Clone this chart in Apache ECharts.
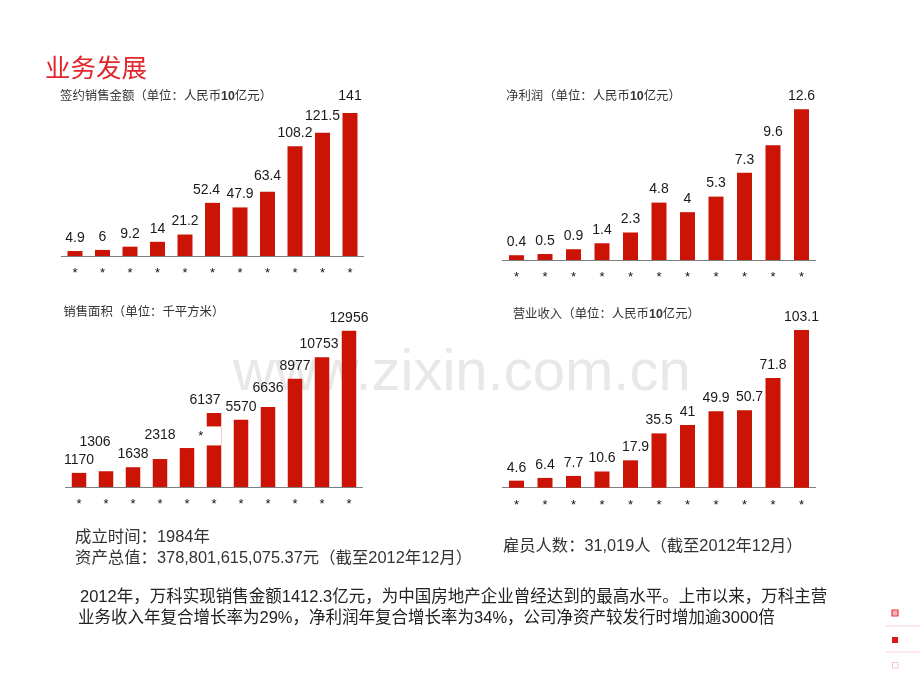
<!DOCTYPE html>
<html><head><meta charset="utf-8">
<script src="https://cdn.jsdelivr.net/npm/echarts@6/dist/echarts.min.js"></script>
<style>html,body{margin:0;padding:0;background:#fff}#c{width:920px;height:690px}</style>
</head><body><div id="c"></div>
<script>
// ---- data ----
const starLabels = ['*','*','*','*','*','*','*','*','*','*','*'];
const contractSales = [4.9, 6, 9.2, 14, 21.2, 52.4, 47.9, 63.4, 108.2, 121.5, 141];
const netProfit = [0.4, 0.5, 0.9, 1.4, 2.3, 4.8, 4, 5.3, 7.3, 9.6, 12.6];
const salesArea = [1170, 1306, 1638, 2318, 3230, 6137, 5570, 6636, 8977, 10753, 12956];
const salesAreaLabels = ['1170','1306','1638','2318','*','6137','5570','6636','8977','10753','12956'];
const revenue = [4.6, 6.4, 7.7, 10.6, 17.9, 35.5, 41, 49.9, 50.7, 71.8, 103.1];

const titleText = '业务发展';
const sub1 = '签约销售金额（单位：人民币{b|10}亿元）';
const sub2 = '净利润（单位：人民币{b|10}亿元）';
const sub3 = '销售面积（单位：千平方米）';
const sub4 = '营业收入（单位：人民币{b|10}亿元）';
const info1 = '成立时间：1984年';
const info2 = '资产总值：378,801,615,075.37元（截至2012年12月）';
const info3 = '雇员人数：31,019人（截至2012年12月）';
const para1 = '2012年，万科实现销售金额1412.3亿元，为中国房地产企业曾经达到的最高水平。上市以来，万科主营';
const para2 = '业务收入年复合增长率为29%，净利润年复合增长率为34%，公司净资产较发行时增加逾3000倍';

// ---- styles ----
const BAR = '#cc1406';
const NUM = '"Liberation Sans", Arial, "Noto Sans CJK SC", sans-serif';
const CJK = '"Liberation Sans", Arial, "Noto Sans CJK SC", sans-serif';

const grids = [
  {left: 61.25, top: 113, width: 302.5, height: 143, outerBoundsMode: 'none'},
  {left: 502.25, top: 109.3, width: 313.5, height: 150.7, outerBoundsMode: 'none'},
  {left: 65.5, top: 330.7, width: 297, height: 156.3, outerBoundsMode: 'none'},
  {left: 502.25, top: 330, width: 313.5, height: 157.7, outerBoundsMode: 'none'}
];
const maxes = [141, 12.6, 12956, 103.1];
const barWidths = [15, 15, 14.5, 15];
const offsets = [
  {5: [-6, 0], 7: [0, -3], 9: [0, -4], 10: [0, -4]},
  {},
  {1: [-11, -16], 3: [0, -11], 5: [-9, 0], 7: [0, -6], 9: [-3, 0]},
  {4: [5, 0], 8: [5, 0]}
];
const seriesData = [contractSales, netProfit, salesArea, revenue];

const xAxes = grids.map((g, i) => ({
  type: 'category', gridIndex: i, data: starLabels,
  axisLine: {lineStyle: {color: '#7f7f7f', width: 1}},
  axisTick: {show: false},
  axisLabel: {color: '#111', fontSize: 13, fontFamily: NUM, margin: 11, interval: 0}
}));
const yAxes = grids.map((g, i) => ({
  type: 'value', gridIndex: i, min: 0, max: maxes[i], show: false, splitLine: {show: false}
}));

const series = seriesData.map((arr, si) => ({
  type: 'bar', xAxisIndex: si, yAxisIndex: si, barWidth: barWidths[si],
  itemStyle: {color: BAR},
  label: {
    show: true, position: 'top', distance: 6, color: '#1a1a1a', fontSize: 14, fontFamily: NUM,
    formatter: si === 2 ? (p => salesAreaLabels[p.dataIndex]) : (p => String(p.value))
  },
  data: arr.map((v, i) => {
    const item = {value: v};
    if (offsets[si][i]) item.label = {offset: offsets[si][i]};
    if (si === 2 && i === 4) {
      item.label = {
        position: [barWidths[2], -21.6], align: 'left', verticalAlign: 'top',
        backgroundColor: '#fff', width: 23, height: 19, lineHeight: 19,
        padding: [0, 0, 0, 4], fontSize: 13, color: '#111'
      };
    }
    return item;
  })
}));

function txt(text, x, y, size, color) {
  return {
    type: 'text', z: 10,
    style: {
      text: text, x: x, y: y, fill: color,
      font: size + 'px ' + CJK, verticalAlign: 'middle', align: 'left'
    }
  };
}
function subT(text, x, y) {
  return {
    type: 'text', z: 10,
    style: {
      text: text, x: x, y: y, fill: '#333', fontSize: 12.4, fontFamily: CJK,
      verticalAlign: 'middle', align: 'left',
      rich: {b: {fontSize: 12.4, fontFamily: NUM, fontWeight: 'bold', fill: '#333'}}
    }
  };
}

const graphics = [
  {type: 'text', z: 0, style: {text: 'www.zixin.com.cn', x: 233, y: 345, fill: '#e8e8e8',
    font: '58px "Liberation Sans", Arial, sans-serif', verticalAlign: 'alphabetic', align: 'left'}},
  {type: 'text', z: 10, style: {text: titleText, x: 45, y: 67.5, fill: '#e2262c',
    font: '25.5px "Noto Sans CJK SC", sans-serif', verticalAlign: 'middle', align: 'left'}},
  subT(sub1, 60, 96.7),
  subT(sub2, 506, 96.7),
  subT(sub3, 63.3, 312.5),
  subT(sub4, 512.7, 315),
  txt(info1, 75, 537, 16.4, '#333'),
  txt(info2, 75, 558, 16.4, '#333'),
  txt(info3, 503, 547, 16.3, '#333'),
  txt(para1, 80, 597, 16.5, '#222'),
  txt(para2, 78, 618, 16.5, '#222'),
  // right-side decoration
  {type: 'line', z: 10, shape: {x1: 886, y1: 626, x2: 920, y2: 626}, style: {stroke: '#fde2e2', lineWidth: 1.5}},
  {type: 'line', z: 10, shape: {x1: 886, y1: 652, x2: 920, y2: 652}, style: {stroke: '#fde2e2', lineWidth: 1.5}},
  {type: 'rect', z: 10, shape: {x: 892, y: 610, width: 6, height: 6}, style: {fill: '#f7b4b8', stroke: '#e33a44', lineWidth: 1.2}},
  {type: 'rect', z: 10, shape: {x: 892, y: 637, width: 6, height: 6}, style: {fill: '#e0141e'}},
  {type: 'rect', z: 10, shape: {x: 892.5, y: 662.5, width: 5.5, height: 5.5}, style: {fill: '#fff', stroke: '#f5c4c8', lineWidth: 1}}
];

const chart = echarts.init(document.getElementById('c'), null, {renderer: 'canvas'});
chart.setOption({
  backgroundColor: '#fff',
  animation: false,
  grid: grids,
  xAxis: xAxes,
  yAxis: yAxes,
  series: series,
  graphic: graphics
});
</script></body></html>
